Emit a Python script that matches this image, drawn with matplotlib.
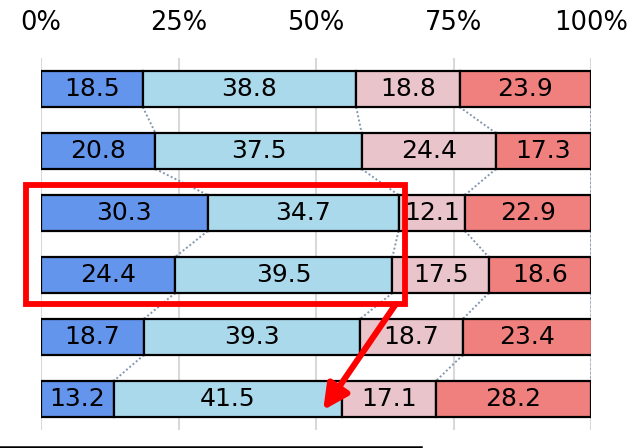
import matplotlib
matplotlib.use("Agg")
import matplotlib.pyplot as plt
from matplotlib.patches import Rectangle
from matplotlib.lines import Line2D

# Share (%) of each response category, one row per group (top to bottom)
seg1 = [18.5, 20.8, 30.3, 24.4, 18.7, 13.2]
seg2 = [38.8, 37.5, 34.7, 39.5, 39.3, 41.5]
seg3 = [18.8, 24.4, 12.1, 17.5, 18.7, 17.1]
seg4 = [23.9, 17.3, 22.9, 18.6, 23.4, 28.2]
tick_values = [0, 25, 50, 75, 100]
tick_labels = ["0%", "25%", "50%", "75%", "100%"]

series = [seg1, seg2, seg3, seg4]
colors = ["#6495ed", "#abd9ec", "#eac4cb", "#f0807d"]

plt.rcParams["font.family"] = ["DejaVu Sans"]

fig = plt.figure(figsize=(6.30, 4.48), dpi=100)
ax = fig.add_axes([41 / 630, 1 - 430 / 448, 550 / 630, 372 / 448])

n = len(seg1)
rows = list(range(n))
bar_h = 0.58

lefts = [0.0] * n
bounds = []
for vals, col in zip(series, colors):
    ax.barh(rows, vals, left=lefts, height=bar_h, color=col,
            edgecolor="black", linewidth=1.6, zorder=3)
    for r, (l, v) in enumerate(zip(lefts, vals)):
        ax.text(l + v / 2, r, f"{v:.1f}", ha="center", va="center",
                fontsize=18, color="black", zorder=4)
    lefts = [l + v for l, v in zip(lefts, vals)]
    bounds.append(list(lefts))

# dotted series lines joining segment boundaries of neighbouring bars
for b in bounds:
    for r in range(n - 1):
        ax.plot([b[r], b[r + 1]], [r + bar_h / 2, r + 1 - bar_h / 2],
                linestyle=(0, (1, 1.2)), color="#8497b0", linewidth=1.4,
                zorder=2)

ax.set_xlim(0, 100)
ax.set_ylim(n - 0.5, -0.5)
ax.set_xticks(tick_values)
ax.set_xticklabels(tick_labels, fontsize=18.5)
ax.xaxis.tick_top()
ax.tick_params(axis="x", length=0, pad=16)
ax.set_yticks([])
ax.grid(axis="x", color="#d9d9d9", linewidth=1.5, zorder=0)
for s in ax.spines.values():
    s.set_visible(False)

# highlight box around the third and fourth groups
ax.add_patch(Rectangle((-2.8, 1.555), 69.0, 1.915, fill=False,
                       edgecolor="#ff0000", linewidth=4.2, clip_on=False,
                       zorder=6))
ax.annotate("", xy=(51.3, 5.18), xytext=(64.5, 3.47),
            arrowprops=dict(arrowstyle="-|>,head_length=1.5,head_width=0.75",
                            color="#ff0000", linewidth=4.4,
                            shrinkA=0, shrinkB=0),
            annotation_clip=False, zorder=6)

fig.add_artist(Line2D([0, 421 / 630], [1 - 446.5 / 448, 1 - 446.5 / 448],
                      color="black", linewidth=1.8))

fig.savefig("out.png", dpi=100)
